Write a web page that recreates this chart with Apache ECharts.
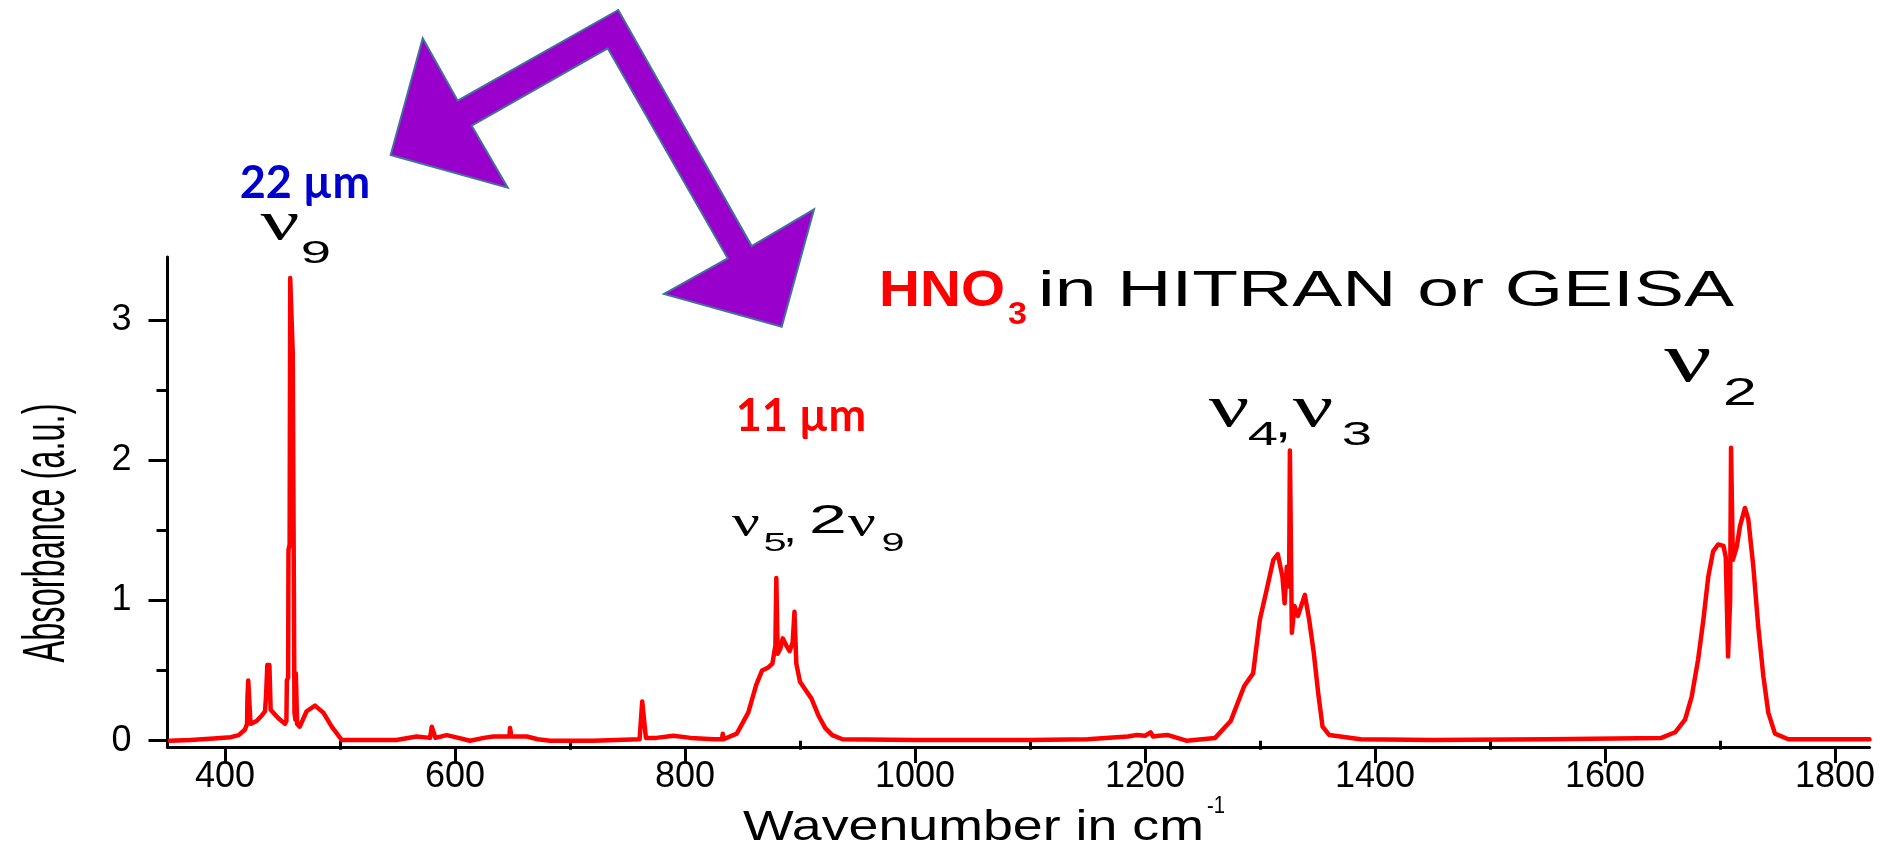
<!DOCTYPE html>
<html><head><meta charset="utf-8">
<script src="https://cdn.jsdelivr.net/npm/echarts@6/dist/echarts.min.js"></script>
<style>html,body{margin:0;padding:0;background:#fff}#c{width:1888px;height:856px}</style>
</head><body><div id="c"></div>
<script>
// ---- data ----
const wavenumber = [
 352,370,390,405,412,417.4,419.2,419.5,420.2,421.6,422.2,423.5,427.5,432,434.8,435.7,436.8,438.6,439.7,446.4,452.2,
 453.4,453.8,454.9,455.2,456.2,456.7,458.2,458.9,459.9,460.4,461.2,461.6,462.2,462.7,465,471,478.3,485.5,492.8,501.5,
 549,566.7,578.3,579.8,581.4,583,592.8,603,613,625,633.3,647.2,647.9,649,662.3,672,682.6,720,760.5,762.8,764.5,766,
 775,790,805,825,832.2,832.8,833.6,845,855,862,867,872,876,878.6,879.4,880.6,883,885,888,891,893.6,895.2,896.8,900,
 905,910,916,922,928,937,1000,1100,1150,1185,1193,1200,1204.8,1205.6,1207,1212,1220,1236,1261,1274.5,1286.3,1294,
 1299.8,1305.9,1311.6,1315.5,1319.5,1321.4,1323.3,1325.3,1326,1327,1327.7,1330,1333,1339,1342.8,1346.7,1350.6,1354.4,
 1360.3,1387.5,1450,1550,1649,1661,1669.6,1675.3,1681,1685.5,1689.8,1694,1698.5,1703,1705,1707,1708.8,1709.6,1711.2,
 1714.5,1717.4,1721.7,1724.6,1729,1733.3,1737.7,1742,1747.8,1759.4,1830
];
const absorbance = [
 0.00,0.005,0.015,0.025,0.04,0.08,0.12,0.30,0.43,0.43,0.12,0.11,0.14,0.18,0.21,0.32,0.54,0.54,0.22,0.16,0.12,
 0.14,0.43,0.45,1.36,1.40,3.30,3.30,2.77,2.77,0.20,0.15,0.48,0.48,0.12,0.10,0.21,0.25,0.20,0.10,0.005,
 0.005,0.03,0.02,0.10,0.10,0.02,0.04,0.02,0.00,0.02,0.03,0.03,0.09,0.03,0.03,0.01,0.00,0.00,0.01,0.28,0.28,0.02,
 0.02,0.035,0.02,0.01,0.01,0.05,0.01,0.05,0.20,0.40,0.50,0.52,0.55,0.68,1.16,0.62,0.66,0.73,0.68,0.64,0.70,0.92,0.55,0.42,
 0.36,0.30,0.18,0.09,0.04,0.01,0.005,0.005,0.01,0.03,0.04,0.035,0.06,0.06,0.03,0.035,0.04,0.00,0.02,0.14,0.39,0.48,
 0.86,1.08,1.29,1.33,1.17,0.98,1.24,1.10,2.07,2.07,0.77,0.96,0.89,1.04,0.86,0.63,0.34,0.10,
 0.04,0.01,0.005,0.01,0.02,0.06,0.15,0.31,0.58,0.86,1.17,1.35,1.40,1.39,1.31,0.60,1.00,2.09,1.29,
 1.38,1.53,1.66,1.58,1.24,0.81,0.46,0.20,0.05,0.01,0.01
];
const xMajorTicks = [400, 600, 800, 1000, 1200, 1400, 1600, 1800];
const xMinorTicks = [500, 700, 900, 1100, 1300, 1500, 1700];
const yMajorTicks = [0, 1, 2, 3];
const yMinorTicks = [0.5, 1.5, 2.5];
const xTitle = 'Wavenumber in cm';
const xTitleSup = '-1';
const yTitle = 'Absorbance (a.u.)';

// ---- chart ----
const X_MIN = 350, X_MAX = 1830, Y_MIN = -0.045, Y_MAX = 3.45;
const chart = echarts.init(document.getElementById('c'), null, {renderer: 'canvas'});
const seriesData = wavenumber.map((w, i) => [w, absorbance[i]]);
const AX = {color: '#000', width: 3};
const SANS = '"Liberation Sans", Arial, sans-serif';
const SERIF = '"Liberation Serif", "Times New Roman", serif';
const CAL = 'Lato, "Open Sans", sans-serif';

function gt(text, x, y, o) {
  return {
    type: 'text', x: x, y: y, z: 20,
    scaleX: o.sx || 1, scaleY: o.sy || 1, rotation: o.rot || 0,
    style: {
      text: text, fontSize: o.size, fontFamily: o.family || SANS,
      fontWeight: o.weight || 'normal', fill: o.color || '#000',
      align: o.align || 'center', verticalAlign: o.va || 'middle'
    }
  };
}
const mctx = document.createElement('canvas').getContext('2d');
function measure(text, o) {
  mctx.font = (o.weight || 'normal') + ' ' + o.size + 'px ' + (o.family || SANS);
  return mctx.measureText(text).width;
}
// place text so that it spans [left, left+width] horizontally, centred on cy
function fit(text, left, width, cy, o) {
  return gt(text, left, cy, Object.assign({}, o, {align: 'left', sx: width / measure(text, o)}));
}

const arrowPts = [[422.7,38.3],[457.7,100.7],[618.3,10],[751.7,246],[814,209.3],[781.7,326.7],
  [664,294],[727.7,258.3],[607.7,48.3],[471.7,125.7],[507.7,187.7],[390.7,155]];

const yTitleOpt = {size: 33};
const graphics = [
  {type: 'polygon', z: 15, shape: {points: arrowPts},
   style: {fill: '#9900CC', stroke: '#41719C', lineWidth: 2}},
  gt('22 µm', 305, 183, {size: 45, family: CAL, weight: 'bold', color: '#0000CC'}),
  gt('11 µm', 801, 416, {size: 45, family: CAL, weight: 'bold', color: '#FF0000'}),
  // nu 9
  gt('ν', 280, 225, {size: 54, family: SERIF, sx: 1.6}),
  gt('9', 316, 254, {size: 32, sx: 1.7}),
  // nu5, 2nu9
  gt('ν', 746, 524, {size: 44, family: SERIF, sx: 1.4}),
  gt('5', 775, 544, {size: 26, sx: 1.6}),
  gt(',', 790, 532, {size: 36, sx: 1.4}),
  gt('2', 828, 522, {size: 40, sx: 1.7}),
  gt('ν', 862, 524, {size: 44, family: SERIF, sx: 1.4}),
  gt('9', 893, 544, {size: 26, sx: 1.6}),
  // nu4, nu3
  gt('ν', 1229, 410, {size: 60, family: SERIF, sx: 1.5}),
  gt('4', 1263, 436, {size: 34, sx: 1.6}),
  gt(',', 1283, 425, {size: 44, sx: 1.4}),
  gt('ν', 1313, 410, {size: 60, family: SERIF, sx: 1.5}),
  gt('3', 1357, 436, {size: 34, sx: 1.6}),
  // nu2
  gt('ν', 1688, 363, {size: 70, family: SERIF, sx: 1.5}),
  gt('2', 1740, 395, {size: 38, sx: 1.6}),
  // title line
  fit('HNO', 879, 126, 292, {size: 50, weight: 'bold', color: '#FF0000'}),
  fit('3', 1008, 19, 315, {size: 31, weight: 'bold', color: '#FF0000'}),
  fit('in HITRAN or GEISA', 1038, 696, 292, {size: 50}),
  // axis titles
  fit(xTitle, 743, 461, 828, {size: 42}),
  fit(xTitleSup, 1207, 18, 806, {size: 24}),
  gt(yTitle, 48, 533, {size: 33, rot: Math.PI / 2, sy: 1.8, sx: 259 / measure(yTitle, yTitleOpt)})
];

const option = {
  animation: false,
  backgroundColor: '#fff',
  grid: {left: 167.5, right: 18.5, top: 257, bottom: 109, containLabel: false},
  xAxis: [
    {type: 'value', min: X_MIN, max: X_MAX, position: 'bottom',
     axisLine: {show: true, onZero: false, lineStyle: AX},
     axisTick: {show: true, customValues: xMajorTicks, length: 16, lineStyle: AX},
     axisLabel: {customValues: xMajorTicks, fontSize: 36, fontFamily: SANS, color: '#000', margin: 12,
                 formatter: v => String(v)},
     splitLine: {show: false}},
    {type: 'value', min: X_MIN, max: X_MAX, position: 'bottom',
     axisLine: {show: false},
     axisTick: {show: true, customValues: xMinorTicks, length: 9, lineStyle: AX},
     axisLabel: {show: false}, splitLine: {show: false}}
  ],
  yAxis: [
    {type: 'value', min: Y_MIN, max: Y_MAX, position: 'left',
     axisLine: {show: true, onZero: false, lineStyle: AX},
     axisTick: {show: true, customValues: yMajorTicks, length: 19, lineStyle: AX},
     axisLabel: {customValues: yMajorTicks, fontSize: 36, fontFamily: SANS, color: '#000', margin: 36,
                 formatter: v => String(v)},
     splitLine: {show: false}},
    {type: 'value', min: Y_MIN, max: Y_MAX, position: 'left',
     axisLine: {show: false},
     axisTick: {show: true, customValues: yMinorTicks, length: 11, lineStyle: AX},
     axisLabel: {show: false}, splitLine: {show: false}}
  ],
  series: [{
    type: 'line', data: seriesData, xAxisIndex: 0, yAxisIndex: 0,
    showSymbol: false, smooth: false, clip: true,
    lineStyle: {color: '#FF0000', width: 4.5, join: 'round', cap: 'round'},
    z: 5
  }],
  graphic: graphics
};
chart.setOption(option);
</script></body></html>
